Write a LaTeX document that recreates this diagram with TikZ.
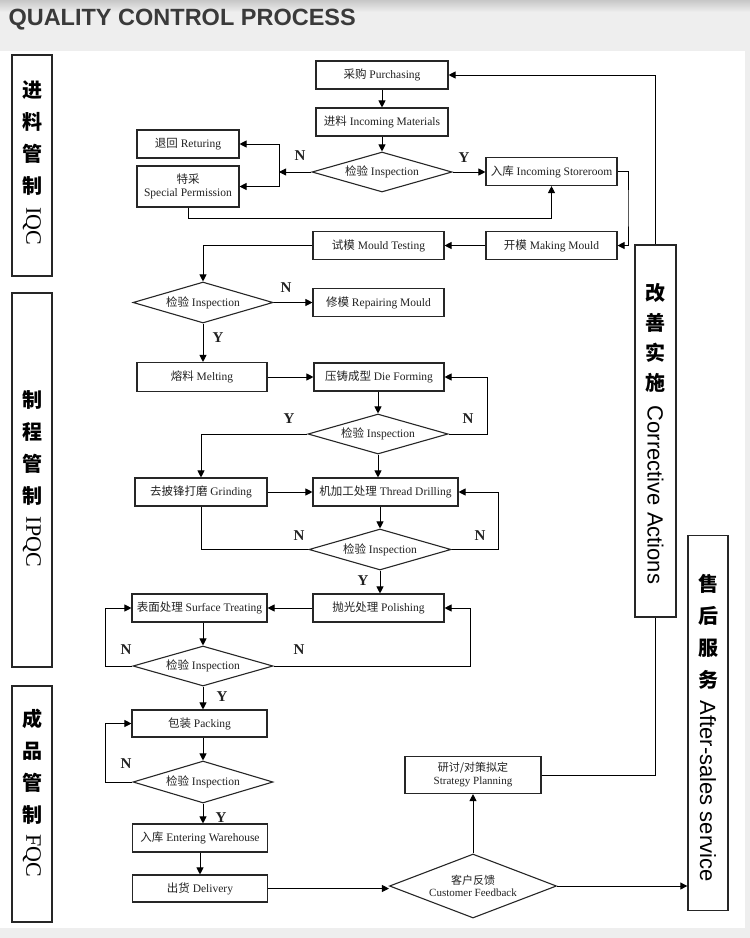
\documentclass[tikz,border=0pt]{standalone}
\usepackage{fontspec}
\setmainfont{Liberation Serif}
\newfontfamily\cjk{Noto Sans CJK SC}
\newfontfamily\titlefont{Liberation Sans}
\usetikzlibrary{arrows.meta,shapes.geometric}
\definecolor{bgg}{HTML}{EEEEEE}
\definecolor{txt}{HTML}{222222}
\definecolor{ttl}{HTML}{3A3A3A}
\begin{document}
\begin{tikzpicture}[x=1pt,y=-1pt,
  box/.style={draw=black!85, line width=1.1pt, minimum height=28pt, inner sep=1pt,
    font=\fontsize{11.5}{13}\selectfont, text=txt, align=center},
  dia/.style={diamond, draw=black!85, line width=1.1pt, aspect=3.5, inner sep=0pt,
    minimum width=140pt, minimum height=40pt, font=\fontsize{11.5}{13}\selectfont, text=txt, align=center},
  arr/.style={-{Triangle[length=7pt,width=7pt]}, line width=0.9pt},
  ln/.style={line width=0.9pt},
  yn/.style={font=\fontsize{15}{15}\selectfont\bfseries, inner sep=0pt, text=txt},
  side/.style={draw=black!85, line width=1.3pt, inner sep=0pt},
  sidecn/.style={font=\cjk\bfseries\fontsize{20}{32}\selectfont, align=center, inner sep=0pt},
  sideen/.style={font=\fontsize{22}{22}\selectfont, rotate=-90, inner sep=0pt},
  sidesans/.style={font=\titlefont\fontsize{22}{22}\selectfont, rotate=-90, inner sep=0pt},
]
\useasboundingbox (0,0) rectangle (750,938);
% background
\fill[bgg] (0,0) rectangle (750,938);
\shade[top color=black!22, bottom color=bgg] (0,0) rectangle (750,12);
\fill[white] (0,51) rectangle (745,928);
\node[anchor=west, font=\titlefont\bfseries\fontsize{23.5}{23.5}\selectfont, text=ttl] (title) at (5,20) {QUALITY CONTROL PROCESS};

% side panels
\node[side, minimum width=40pt, minimum height=221pt] (iqc) at (32,165.5) {};
\node[sidecn] (iqccn) at (32,138) {进\\料\\管\\制};
\node[sideen] (iqcen) at (32,226) {IQC};
\node[side, minimum width=40pt, minimum height=374pt] (ipqc) at (32,480) {};
\node[sidecn] (ipqccn) at (32,448) {制\\程\\管\\制};
\node[sideen] (ipqcen) at (32,542) {IPQC};
\node[side, minimum width=40pt, minimum height=236pt] (fqc) at (32,804) {};
\node[sidecn] (fqccn) at (32,767) {成\\品\\管\\制};
\node[sideen] (fqcen) at (32,856) {FQC};
\node[side, minimum width=41pt, minimum height=372pt] (ca) at (655.5,431) {};
\node[sidecn, font=\cjk\bfseries\fontsize{20}{30}\selectfont] (cacn) at (655.5,338) {改\\善\\实\\施};
\node[sidesans] (caen) at (655.5,495) {Corrective Actions};
\node[side, minimum width=40pt, minimum height=375pt] (as) at (708,723) {};
\node[sidecn, font=\cjk\bfseries\fontsize{20}{32}\selectfont] (ascn) at (708,632) {售\\后\\服\\务};
\node[sidesans] (asen) at (708,791) {After-sales service};

% flow nodes
\node[box, minimum width=132pt] (pur) at (382,75) {{\cjk 采购} Purchasing};
\node[box, minimum width=132pt] (inc) at (382,122) {{\cjk 进料} Incoming Materials};
\node[dia] (ins1) at (382,172) {{\cjk 检验} Inspection};
\node[box, minimum width=102pt] (ret) at (188,144) {{\cjk 退回} Returing};
\node[box, minimum width=102pt, minimum height=41pt] (sp) at (188,186.5) {{\cjk 特采}\\Special Permission};
\node[box, minimum width=131pt] (sto) at (551.5,171.5) {{\cjk 入库} Incoming Storeroom};
\node[box, minimum width=131pt] (mt) at (378.5,245.5) {{\cjk 试模} Mould Testing};
\node[box, minimum width=131pt] (mm) at (551.5,245.5) {{\cjk 开模} Making Mould};
\node[dia, minimum height=41pt, aspect=3.4] (ins2) at (203,302.5) {{\cjk 检验} Inspection};
\node[box, minimum width=131pt] (rm) at (378.5,302.5) {{\cjk 修模} Repairing Mould};
\node[box, minimum width=130pt, minimum height=29pt] (mel) at (202,377) {{\cjk 熔料} Melting};
\node[box, minimum width=130pt] (df) at (379,377) {{\cjk 压铸成型} Die Forming};
\node[dia] (ins3) at (378,434) {{\cjk 检验} Inspection};
\node[box, minimum width=132pt] (gr) at (201,492) {{\cjk 去披锋打磨} Grinding};
\node[box, minimum width=145pt] (td) at (385.5,492) {{\cjk 机加工处理} Thread Drilling};
\node[dia, minimum width=142pt, minimum height=41pt, aspect=3.46] (ins4) at (380,549.5) {{\cjk 检验} Inspection};
\node[box, minimum width=135pt] (st) at (199.5,608) {{\cjk 表面处理} Surface Treating};
\node[box, minimum width=131pt] (po) at (378.5,608) {{\cjk 抛光处理} Polishing};
\node[dia] (ins5) at (203,666) {{\cjk 检验} Inspection};
\node[box, minimum width=135pt, minimum height=27pt] (pk) at (199.5,723.5) {{\cjk 包装} Packing};
\node[dia, minimum height=42pt, aspect=3.33] (ins6) at (203,782) {{\cjk 检验} Inspection};
\node[box, minimum width=135pt] (ew) at (200,838) {{\cjk 入库} Entering Warehouse};
\node[box, minimum width=135pt, minimum height=27pt] (de) at (200,888.5) {{\cjk 出货} Delivery};
\node[dia, minimum width=167pt, minimum height=64pt, aspect=2.6, font=\fontsize{11}{12.5}\selectfont] (cf) at (473,886) {{\cjk 客户反馈}\\Customer Feedback};
\node[box, minimum width=136pt, minimum height=37pt, font=\fontsize{11}{13}\selectfont] (sg) at (473,775) {{\cjk 研讨/对策拟定}\\Strategy Planning};

% connectors
\coordinate (j1) at (279,172);
\draw[arr] (pur) -- (inc);
\draw[arr] (inc) -- (ins1);
\draw[arr] (ins1.west) -- (j1);
\draw[ln] (j1 |- ret.east) -- (j1 |- sp.east);
\draw[arr] (j1 |- ret.east) -- (ret.east);
\draw[arr] (j1 |- sp.east) -- (sp.east);
\draw[arr] (ins1.east) -- (ins1.east -| sto.west);
\draw[arr] (sp.south) -- ++(0,10.5) -| (sto.south);
\coordinate (r1) at (628,208);
\draw[arr] (sto.east) -| (r1) |- (mm.east);
\draw[arr] (mm.west) -- (mt.east);
\draw[arr] (mt.west) -| (ins2.north);
\draw[arr] (ins2.east) -- (ins2.east -| rm.west);
\draw[arr] (ins2.south) -- (ins2.south |- mel.north);
\draw[arr] (mel.east) -- (df.west);
\draw[arr] (df.south -| ins3.north) -- (ins3.north);
\draw[arr] (ins3.east) -- ++(39,0) |- (df.east);
\draw[arr] (ins3.west) -| (gr.north);
\draw[arr] (ins3.south) -- (ins3.south |- td.north);
\draw[arr] (gr.east) -- (td.west);
\draw[arr] (ins4.north |- td.south) -- (ins4.north);
\draw[arr] (ins4.east) -- ++(47,0) |- (td.east);
\draw[ln] (ins4.west) -| (gr.south);
\draw[arr] (ins4.south) -- (ins4.south |- po.north);
\draw[arr] (po.west) -- (st.east);
\draw[arr] (st.south -| ins5.north) -- (ins5.north);
\draw[arr] (ins5.west) -- ++(-27,0) |- (st.west);
\draw[arr] (ins5.east) -- ++(197,0) |- (po.east);
\draw[arr] (ins5.south) -- (ins5.south |- pk.north);
\draw[arr] (pk.south -| ins6.north) -- (ins6.north);
\draw[arr] (ins6.west) -- ++(-27,0) |- (pk.west);
\draw[arr] (ins6.south) -- (ins6.south |- ew.north);
\draw[arr] (ew) -- (de);
\draw[arr] (de.east) -- (de.east -| cf.west);
\draw[arr] (cf.north) -- (sg.south);
\draw[arr] (cf.east) -- (cf.east -| as.west);
\draw[ln] (sg.east) -| (ca.south);
\draw[arr] (ca.north) |- (pur.east);

% Y/N labels
\node[yn] (l1) at (300,156) {N};
\node[yn] (l2) at (464,158) {Y};
\node[yn] (l3) at (286,288) {N};
\node[yn] (l4) at (218,338) {Y};
\node[yn] (l5) at (289,419) {Y};
\node[yn] (l6) at (468,419) {N};
\node[yn] (l7) at (299,536) {N};
\node[yn] (l8) at (480,536) {N};
\node[yn] (l9) at (363,581) {Y};
\node[yn] (l10) at (126,650) {N};
\node[yn] (l11) at (299,650) {N};
\node[yn] (l12) at (222,697) {Y};
\node[yn] (l13) at (126,764) {N};
\node[yn] (l14) at (221,818) {Y};
\end{tikzpicture}
\end{document}
